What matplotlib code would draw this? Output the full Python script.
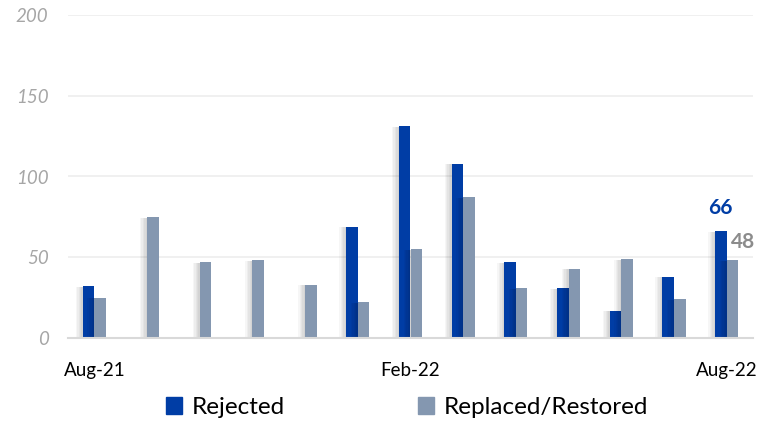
import numpy as np
import matplotlib
matplotlib.use("Agg")
import matplotlib.pyplot as plt
import matplotlib.patheffects as pe
from matplotlib.patches import Patch

months = ["Aug-21", "Sep-21", "Oct-21", "Nov-21", "Dec-21", "Jan-22", "Feb-22",
          "Mar-22", "Apr-22", "May-22", "Jun-22", "Jul-22", "Aug-22"]
rejected = [32, 0, 0, 0, 0, 69, 131, 108, 47, 31, 17, 38, 66]
replaced = [25, 75, 47, 48, 33, 22, 55, 87, 31, 43, 49, 24, 48]
shown_ticks = ["Aug-21", "Feb-22", "Aug-22"]

blue = "#003DA5"
grey = "#8497B0"

plt.rcParams["font.family"] = ["Lato", "DejaVu Sans"]

fig = plt.figure(figsize=(7.61, 4.23), dpi=100)
ax = fig.add_axes([68 / 761, 85 / 423, 685 / 761, 323 / 423])

x = np.arange(len(months))
w = 0.22
# soft shadow on the left of each bar
shadow = [pe.SimplePatchShadow(offset=(-d, -0.5), alpha=0.035, shadow_rgbFace="#000000")
          for d in (1, 2, 3, 4, 5)] + [pe.Normal()]
b1 = ax.bar(x - w / 2, rejected, w, color=blue, zorder=3)
b2 = ax.bar(x + w / 2, replaced, w, color=grey, zorder=3)
for bar in list(b1) + list(b2):
    if bar.get_height() > 0:
        bar.set_path_effects(shadow)

ax.set_xlim(-0.5, len(months) - 0.5)
ax.set_ylim(0, 200)
ax.set_yticks(range(0, 201, 50))
ax.yaxis.grid(True, color="#EDEDED", linewidth=1.2, zorder=0)
ax.set_axisbelow(True)
for s in ["top", "right", "left"]:
    ax.spines[s].set_visible(False)
ax.spines["bottom"].set_color("#D9D9D9")
ax.spines["bottom"].set_linewidth(1.5)
ax.spines["bottom"].set_zorder(4)

ax.tick_params(axis="y", length=0, pad=14, labelsize=13.5, labelcolor="#A6A6A6")
for lbl in ax.get_yticklabels():
    lbl.set_fontstyle("italic")
tick_pos = [months.index(m) for m in shown_ticks]
ax.set_xticks(tick_pos)
ax.set_xticklabels(shown_ticks)
ax.tick_params(axis="x", length=0, pad=17, labelsize=13.5, labelcolor="#000000")

# latest month values
last = len(months) - 1
ax.annotate(str(rejected[last]), (last - w / 2, rejected[last]), xytext=(0, 10),
            textcoords="offset points", ha="center", va="bottom",
            color=blue, fontsize=15, fontweight="bold")
ax.annotate(str(replaced[last]), (last + w, replaced[last]), xytext=(-5, 6),
            textcoords="offset points", ha="left", va="bottom",
            color="#8C8C8C", fontsize=15, fontweight="bold")

handles = [Patch(color=blue, label="Rejected"), Patch(color=grey, label="Replaced/Restored")]
fig.legend(handles=handles, loc="lower center", bbox_to_anchor=(0.535, -0.04), ncol=2,
           frameon=False, fontsize=17.5, handlelength=0.65, handleheight=0.65,
           handletextpad=0.4, columnspacing=5.5)

fig.savefig("out.png", dpi=100)
